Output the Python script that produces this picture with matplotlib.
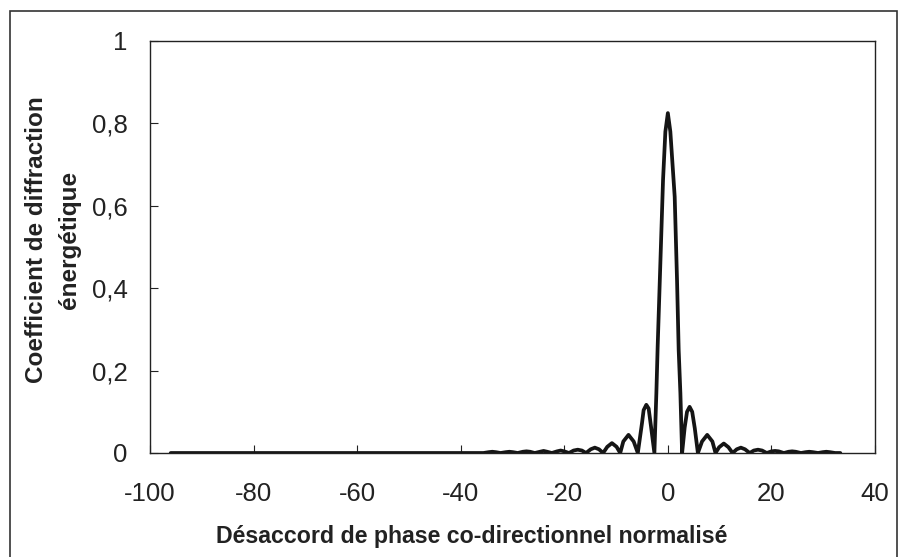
import matplotlib
matplotlib.use("Agg")
import matplotlib.pyplot as plt
from matplotlib.patches import Rectangle

plt.rcParams['font.family'] = ['Liberation Sans', 'DejaVu Sans']

# désaccord de phase normalisé
x_desaccord = [
    -96, -90, -80, -70, -60, -50, -40, -37.5,
    -35.6, -34.6, -33.9, -33.2, -32.3, -31.3, -30.6, -29.9, -29.0,
    -28.0, -27.3, -26.6, -25.7, -24.7, -24.0, -23.3, -22.4,
    -21.4, -20.7, -20.0, -19.1, -18.2, -17.4, -16.6, -15.8,
    -14.9, -14.1, -13.3, -12.5, -11.7, -10.8, -9.9, -9.2,
    -8.6, -7.6, -6.6, -5.8, -5.0, -4.68, -4.16, -3.71, -3.25, -2.6,
    -2.22, -1.97, -1.45, -0.93, -0.48, 0.0, 0.48, 1.32, 1.77, 2.09, 2.42,
    2.75, 3.25, 3.7, 4.2, 4.7, 5.2, 5.8, 6.6, 7.6, 8.6, 9.2,
    9.9, 10.8, 11.7, 12.5, 13.3, 14.1, 14.9, 15.8, 16.6, 17.4, 18.2, 19.1,
    20.0, 20.7, 21.4, 22.4, 23.3, 24.0, 24.7, 25.7, 26.6, 27.3, 28.0, 29.0,
    29.9, 30.6, 31.3, 32.3, 33.3,
]

# coefficient de diffraction énergétique
eta = [
    0.0, 0.0, 0.0, 0.0, 0.0, 0.0, 0.0, 0.0,
    0.0, 0.002, 0.003, 0.002, 0.0, 0.002, 0.003, 0.002, 0.0,
    0.003, 0.004, 0.003, 0.0, 0.003, 0.005, 0.003, 0.0,
    0.004, 0.006, 0.004, 0.0, 0.006, 0.008, 0.006, 0.0,
    0.009, 0.013, 0.009, 0.0, 0.015, 0.024, 0.015, 0.0,
    0.028, 0.044, 0.028, 0.0, 0.072, 0.104, 0.117, 0.108, 0.064, 0.0,
    0.145, 0.258, 0.46, 0.663, 0.78, 0.825, 0.78, 0.622, 0.42, 0.25, 0.145,
    0.0, 0.062, 0.10, 0.112, 0.10, 0.06, 0.0, 0.028, 0.044, 0.028, 0.0,
    0.014, 0.023, 0.014, 0.0, 0.009, 0.013, 0.009, 0.0, 0.006, 0.008, 0.006, 0.0,
    0.004, 0.005, 0.004, 0.0, 0.003, 0.004, 0.003, 0.0, 0.002, 0.003, 0.002, 0.0,
    0.002, 0.003, 0.002, 0.0, 0.0,
]

x_ticks = [-100, -80, -60, -40, -20, 0, 20, 40]
y_ticks = [0, 0.2, 0.4, 0.6, 0.8, 1]
y_labels = ['0', '0,2', '0,4', '0,6', '0,8', '1']

fig = plt.figure(figsize=(9.02, 5.57), dpi=100)
ax = fig.add_axes([150/902, 104/557, 725/902, 412/557])

ax.plot(x_desaccord, eta, color='#151515', linewidth=2.7,
        solid_joinstyle='round', solid_capstyle='round')

ax.set_xlim(-100, 40)
ax.set_ylim(0, 1)
ax.set_xticks(x_ticks)
ax.set_xticklabels([str(v) for v in x_ticks])
ax.set_yticks(y_ticks)
ax.set_yticklabels(y_labels)
ax.tick_params(direction='in', length=6, width=0.8, labelsize=18.5, colors='#222222')
ax.tick_params(axis='x', pad=21)
ax.tick_params(axis='y', pad=16)
for s in ax.spines.values():
    s.set_linewidth(1.0)
    s.set_color('#222222')

fig.text(472/902, 20/557, 'Désaccord de phase co-directionnel normalisé',
         ha='center', va='center', fontsize=16.7, fontweight='bold', color='#222222')
fig.text(53/902, 317/557, 'Coefficient de diffraction\nénergétique',
         ha='center', va='center', rotation=90, multialignment='center',
         fontsize=17.5, fontweight='bold', color='#222222', linespacing=1.5)

# cadre autour de la figure
fig.patches.append(Rectangle((10/902, -0.02), 887/902, 1.0, transform=fig.transFigure,
                             fill=False, edgecolor='#333333', linewidth=1.2))

fig.savefig('out.png', dpi=100)
